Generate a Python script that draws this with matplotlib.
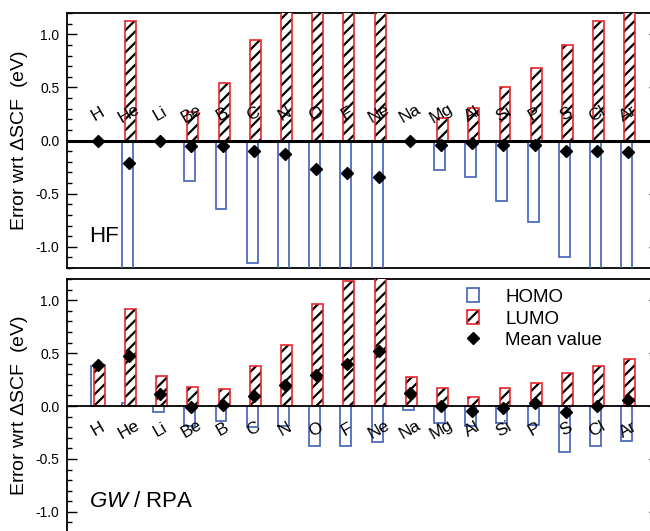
import matplotlib
matplotlib.use("Agg")
import matplotlib.pyplot as plt
import numpy as np
from matplotlib.patches import Patch
from matplotlib.lines import Line2D
from matplotlib.ticker import MultipleLocator, FormatStrFormatter

plt.rcParams['font.family'] = ['Liberation Sans', 'DejaVu Sans']
plt.rcParams['axes.unicode_minus'] = False
plt.rcParams['mathtext.fontset'] = 'custom'
plt.rcParams['mathtext.it'] = 'Liberation Sans:italic'
plt.rcParams['mathtext.rm'] = 'Liberation Sans'
plt.rcParams['hatch.linewidth'] = 1.6

elements = ['H', 'He', 'Li', 'Be', 'B', 'C', 'N', 'O', 'F', 'Ne',
            'Na', 'Mg', 'Al', 'Si', 'P', 'S', 'Cl', 'Ar']

hf_homo = [0, -1.54, 0, -0.38, -0.64, -1.15, -1.60, -2.00, -2.40, -2.80,
           0, -0.28, -0.34, -0.57, -0.77, -1.10, -1.32, -1.50]
hf_lumo = [0, 1.12, 0, 0.27, 0.54, 0.95, 1.34, 1.46, 1.78, 2.12,
           0, 0.21, 0.31, 0.50, 0.68, 0.90, 1.12, 1.28]
hf_mean = [0, -0.21, 0, -0.05, -0.05, -0.10, -0.13, -0.27, -0.31, -0.34,
           0, -0.04, -0.02, -0.04, -0.04, -0.10, -0.10, -0.11]

gw_homo = [0.38, 0.03, -0.06, -0.19, -0.14, -0.20, -0.19, -0.38, -0.38, -0.34,
           -0.04, -0.16, -0.19, -0.16, -0.18, -0.43, -0.38, -0.33]
gw_lumo = [0.39, 0.915, 0.28, 0.18, 0.16, 0.38, 0.58, 0.965, 1.18, 1.38,
           0.27, 0.17, 0.085, 0.17, 0.22, 0.31, 0.38, 0.44]
gw_mean = [0.39, 0.475, 0.11, -0.005, 0.01, 0.095, 0.20, 0.29, 0.40, 0.52,
           0.12, 0.0, -0.05, -0.02, 0.025, -0.06, 0.0, 0.06]

BLUE = '#3f5fb8'
RED = '#e8262b'
W, H = 650, 531

fig = plt.figure(figsize=(6.5, 5.31), dpi=100)
ax1 = fig.add_axes([66.5 / W, (H - 268) / H, 593 / W, 255 / H])
ax2 = fig.add_axes([66.5 / W, (H - 533) / H, 593 / W, 254 / H])

x = np.arange(len(elements))
bw = 0.35
off = 0.05


def draw(ax, homo, lumo, mean, label_y, zero_lw, title):
    ax.bar(x - off, homo, bw, facecolor='none', edgecolor=BLUE, linewidth=1.2, zorder=3)
    ax.bar(x + off, lumo, bw, facecolor='white', edgecolor='black', hatch='///',
           linewidth=0, zorder=4)
    ax.bar(x + off, lumo, bw, facecolor='none', edgecolor=RED, linewidth=1.2, zorder=5)
    ax.axhline(0, color='black', lw=zero_lw, zorder=6)
    for xi, el in zip(x, elements):
        ax.text(xi, label_y, el, rotation=30, ha='center', va='center',
                fontsize=12.5, zorder=6.5, rotation_mode='anchor')
    ax.plot(x, mean, linestyle='none', marker='D', ms=6.5, color='black', zorder=7)
    ax.set_xlim(-1, 18)
    ax.set_ylim(-1.2, 1.2)
    ax.set_xticks([])
    ax.yaxis.set_major_locator(MultipleLocator(0.5))
    ax.yaxis.set_minor_locator(MultipleLocator(0.1))
    ax.yaxis.set_major_formatter(FormatStrFormatter('%.1f'))
    ax.tick_params(axis='y', which='both', direction='in', left=True, right=True,
                   labelsize=10, pad=5)
    ax.tick_params(axis='y', which='major', length=7, width=1)
    ax.tick_params(axis='y', which='minor', length=3.5, width=1)
    for s in ax.spines.values():
        s.set_linewidth(1.3)
    ax.set_ylabel('Error wrt $\\Delta$SCF  (eV)', fontsize=14, labelpad=4)
    ax.text(0.038, 0.102, title, transform=ax.transAxes, fontsize=16,
            ha='left', va='baseline')


draw(ax1, hf_homo, hf_lumo, hf_mean, 0.25, 2.2, 'HF')
draw(ax2, gw_homo, gw_lumo, gw_mean, -0.22, 1.3, '$\\mathit{GW}$ / RPA')

handles = [
    Patch(facecolor='white', edgecolor=BLUE, linewidth=1.2),
    (Patch(facecolor='white', edgecolor='black', hatch='///', linewidth=0),
     Patch(facecolor='none', edgecolor=RED, linewidth=1.2)),
    Line2D([], [], linestyle='none', marker='D', ms=6.5, color='black'),
]
fig.legend(handles, ['HOMO', 'LUMO', 'Mean value'], loc='upper left',
           bbox_to_anchor=(467 / W, 1 - 288 / H), frameon=False, fontsize=13.5,
           handlelength=0.65, handleheight=0.8, handletextpad=1.4,
           labelspacing=0.22, borderpad=0, borderaxespad=0)

fig.savefig('out.png', dpi=100)
